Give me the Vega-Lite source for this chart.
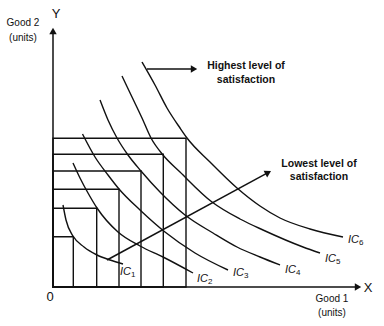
{
  "$schema": "https://vega.github.io/schema/vega-lite/v6.json",
  "width": 384,
  "height": 326,
  "padding": 0,
  "autosize": {"type": "fit", "contains": "padding"},
  "background": "white",
  "config": {"view": {"stroke": null}, "text": {"font": "Liberation Sans", "color": "#111"}},
  "datasets": {
    "curves": [
      {"ic": "IC1", "x": 10, "y": 82}, {"ic": "IC1", "x": 13, "y": 67}, {"ic": "IC1", "x": 20, "y": 51}, {"ic": "IC1", "x": 31, "y": 40}, {"ic": "IC1", "x": 44, "y": 32}, {"ic": "IC1", "x": 57, "y": 27}, {"ic": "IC1", "x": 70, "y": 23},
      {"ic": "IC2", "x": 20, "y": 124}, {"ic": "IC2", "x": 27, "y": 109}, {"ic": "IC2", "x": 35, "y": 94}, {"ic": "IC2", "x": 44, "y": 79}, {"ic": "IC2", "x": 65, "y": 55}, {"ic": "IC2", "x": 87, "y": 41}, {"ic": "IC2", "x": 110, "y": 30}, {"ic": "IC2", "x": 140, "y": 14},
      {"ic": "IC3", "x": 29.5, "y": 153}, {"ic": "IC3", "x": 42, "y": 130}, {"ic": "IC3", "x": 55, "y": 112}, {"ic": "IC3", "x": 66, "y": 98}, {"ic": "IC3", "x": 87, "y": 77}, {"ic": "IC3", "x": 112, "y": 55}, {"ic": "IC3", "x": 142, "y": 34}, {"ic": "IC3", "x": 175, "y": 17},
      {"ic": "IC4", "x": 47, "y": 187}, {"ic": "IC4", "x": 55, "y": 167}, {"ic": "IC4", "x": 64, "y": 149}, {"ic": "IC4", "x": 75, "y": 132}, {"ic": "IC4", "x": 88, "y": 116}, {"ic": "IC4", "x": 107, "y": 95}, {"ic": "IC4", "x": 132, "y": 72}, {"ic": "IC4", "x": 160, "y": 54}, {"ic": "IC4", "x": 184, "y": 40}, {"ic": "IC4", "x": 207, "y": 30}, {"ic": "IC4", "x": 227, "y": 22},
      {"ic": "IC5", "x": 69, "y": 211}, {"ic": "IC5", "x": 79, "y": 190}, {"ic": "IC5", "x": 89, "y": 169}, {"ic": "IC5", "x": 98, "y": 149}, {"ic": "IC5", "x": 110, "y": 132}, {"ic": "IC5", "x": 127, "y": 115}, {"ic": "IC5", "x": 159, "y": 85}, {"ic": "IC5", "x": 187, "y": 68}, {"ic": "IC5", "x": 210, "y": 57}, {"ic": "IC5", "x": 250, "y": 40}, {"ic": "IC5", "x": 267, "y": 34},
      {"ic": "IC6", "x": 89, "y": 225}, {"ic": "IC6", "x": 102, "y": 202}, {"ic": "IC6", "x": 114, "y": 179}, {"ic": "IC6", "x": 127, "y": 159}, {"ic": "IC6", "x": 134, "y": 149}, {"ic": "IC6", "x": 157, "y": 125}, {"ic": "IC6", "x": 184, "y": 99}, {"ic": "IC6", "x": 207, "y": 81}, {"ic": "IC6", "x": 227, "y": 69}, {"ic": "IC6", "x": 257, "y": 58}, {"ic": "IC6", "x": 290, "y": 50}
    ],
    "boxes": [
      {"x0": 0, "y0": 0, "x": 20.3, "y": 50.3},
      {"x0": 0, "y0": 0, "x": 43.7, "y": 78.7},
      {"x0": 0, "y0": 0, "x": 66, "y": 97.7},
      {"x0": 0, "y0": 0, "x": 88, "y": 116},
      {"x0": 0, "y0": 0, "x": 110.3, "y": 132.7},
      {"x0": 0, "y0": 0, "x": 133, "y": 148.7}
    ],
    "segments": [
      {"name": "y axis", "x": 0, "y": 0, "x2": 0, "y2": 256},
      {"name": "x axis", "x": 0, "y": 0, "x2": 305, "y2": 0},
      {"name": "highest", "x": 94, "y": 218, "x2": 140, "y2": 218},
      {"name": "lowest", "x": 54, "y": 27, "x2": 215, "y2": 114.4}
    ],
    "labels": [
      {"t": "IC", "s": "1", "x": 67, "y": 15},
      {"t": "IC", "s": "2", "x": 144, "y": 8},
      {"t": "IC", "s": "3", "x": 180, "y": 14},
      {"t": "IC", "s": "4", "x": 232, "y": 17},
      {"t": "IC", "s": "5", "x": 272, "y": 28},
      {"t": "IC", "s": "6", "x": 295, "y": 47}
    ]
  },
  "encoding": {
    "x": {"field": "x", "type": "quantitative", "scale": {"domain": [-53, 331], "nice": false, "zero": false}, "axis": null},
    "y": {"field": "y", "type": "quantitative", "scale": {"domain": [-39, 287], "nice": false, "zero": false}, "axis": null}
  },
  "layer": [
    {
      "data": {"name": "boxes"},
      "mark": {"type": "rect", "fill": null, "filled": false, "stroke": "#111", "strokeWidth": 1.4},
      "encoding": {"x": {"field": "x0", "type": "quantitative"}, "x2": {"field": "x"}, "y": {"field": "y0", "type": "quantitative"}, "y2": {"field": "y"}}
    },
    {
      "data": {"name": "curves"},
      "mark": {"type": "line", "interpolate": "monotone", "stroke": "#111", "strokeWidth": 1.4},
      "encoding": {"detail": {"field": "ic"}}
    },
    {
      "data": {"name": "segments"},
      "mark": {"type": "rule", "stroke": "#111", "strokeWidth": 1.5},
      "encoding": {"x2": {"field": "x2"}, "y2": {"field": "y2"}}
    },
    {
      "data": {"values": [{"x": 0, "y": 256}]},
      "mark": {"type": "point", "shape": "triangle-up", "filled": true, "color": "#111", "size": 55, "opacity": 1},
      "encoding": {}
    },
    {
      "data": {"values": [{"x": 305, "y": 0}, {"x": 141, "y": 218}]},
      "mark": {"type": "point", "shape": "triangle-right", "filled": true, "color": "#111", "size": 55, "opacity": 1},
      "encoding": {}
    },
    {
      "data": {"values": [{"x": 215.2, "y": 114.4}]},
      "mark": {"type": "point", "shape": "triangle-right", "angle": -28.5, "filled": true, "color": "#111", "size": 55, "opacity": 1},
      "encoding": {}
    },
    {
      "data": {"values": [
        {"t": "Good 2", "x": -30, "y": 264},
        {"t": "(units)", "x": -30, "y": 249},
        {"t": "Good 1", "x": 279, "y": -12},
        {"t": "(units)", "x": 279, "y": -26}
      ]},
      "mark": {"type": "text", "fontSize": 10, "align": "center", "baseline": "middle"},
      "encoding": {"text": {"field": "t"}}
    },
    {
      "data": {"values": [
        {"t": "Y", "x": 3, "y": 273},
        {"t": "X", "x": 315, "y": -1},
        {"t": "0", "x": -3, "y": -10}
      ]},
      "mark": {"type": "text", "fontSize": 13, "align": "center", "baseline": "middle"},
      "encoding": {"text": {"field": "t"}}
    },
    {
      "data": {"values": [
        {"t": "Highest level of", "x": 193, "y": 221},
        {"t": "satisfaction", "x": 193, "y": 207},
        {"t": "Lowest level of", "x": 266, "y": 123},
        {"t": "satisfaction", "x": 266, "y": 110}
      ]},
      "mark": {"type": "text", "fontSize": 10.5, "fontWeight": "bold", "align": "center", "baseline": "middle"},
      "encoding": {"text": {"field": "t"}}
    },
    {
      "data": {"name": "labels"},
      "mark": {"type": "text", "fontSize": 11, "fontStyle": "italic", "align": "left", "baseline": "middle"},
      "encoding": {"text": {"field": "t"}}
    },
    {
      "data": {"name": "labels"},
      "mark": {"type": "text", "fontSize": 8, "align": "left", "baseline": "middle", "dx": 11, "dy": 3},
      "encoding": {"text": {"field": "s"}}
    }
  ]
}
